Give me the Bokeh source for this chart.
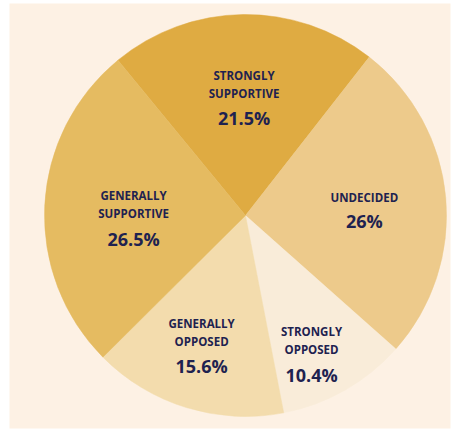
import math
from bokeh.plotting import figure
from bokeh.models import Range1d, ColumnDataSource
from bokeh.core.properties import value
from bokeh.embed import file_html
from bokeh.resources import INLINE

# ---- data ----
categories = ["STRONGLY\nSUPPORTIVE", "UNDECIDED", "STRONGLY\nOPPOSED",
              "GENERALLY\nOPPOSED", "GENERALLY\nSUPPORTIVE"]
shares = [21.5, 26.0, 10.4, 15.6, 26.5]
pct_labels = ["21.5%", "26%", "10.4%", "15.6%", "26.5%"]

# ---- style ----
colors = ["#DFAB42", "#EDCA8B", "#F9ECD9", "#F3DCAD", "#E5BB61"]
label_radius = [0.59, 0.592, 0.761, 0.68, 0.557]
label_nudge_deg = [0.0, -2.3, -4.1, -1.6, 3.8]
bg = "#FDF1E4"
ink = "#1E2250"
W, H = 458, 431
BL, BT, BR, BB = 9, 3, 8, 3
FW, FH = W - BL - BR, H - BT - BB
cx, cy, R = 236, 213, 201
start_deg = 129.4

p = figure(width=W, height=H, output_backend="svg", toolbar_location=None,
           x_range=Range1d(0, FW), y_range=Range1d(0, FH),
           x_axis_location=None, y_axis_location=None,
           min_border_left=BL, min_border_top=BT, min_border_right=BR,
           min_border_bottom=BB,
           background_fill_color=bg, border_fill_color="white")
p.grid.visible = False
p.outline_line_color = None

total = sum(shares)
starts, ends, mids = [], [], []
a = start_deg
for s in shares:
    span = s / total * 360.0
    hi = a
    lo = a - span
    starts.append(math.radians(lo))
    ends.append(math.radians(hi))
    mids.append((hi + lo) / 2)
    a = lo

src = ColumnDataSource(dict(start=starts, end=ends, color=colors))
p.wedge(x=cx, y=cy, radius=R, start_angle="start", end_angle="end",
        fill_color="color", line_color="color", line_width=0.5, source=src)

nx, ny, nt = [], [], []
px, py, pt = [], [], []
for cat, pct, m, f, nd in zip(categories, pct_labels, mids, label_radius, label_nudge_deg):
    ang = math.radians(m + nd)
    ax = cx + R * f * math.cos(ang)
    ay = cy + R * f * math.sin(ang)
    lines = cat.split("\n")
    if len(lines) == 2:
        offs = [21.5, 3.5]
        poff = -21.5
    else:
        offs = [12]
        poff = -11.5
    for ln, o in zip(lines, offs):
        nx.append(ax); ny.append(ay + o); nt.append(ln)
    px.append(ax); py.append(ay + poff); pt.append(pct)

p.text(x=nx, y=ny, text=nt, text_font=value("Open Sans"), text_font_style="bold",
       text_font_size="11.5px", text_color=ink, text_align="center",
       text_baseline="middle")
p.text(x=px, y=py, text=pt, text_font=value("Open Sans"), text_font_style="bold",
       text_font_size="18px", text_color=ink, text_align="center",
       text_baseline="middle")

open("out.html", "w").write(file_html(p, INLINE))
